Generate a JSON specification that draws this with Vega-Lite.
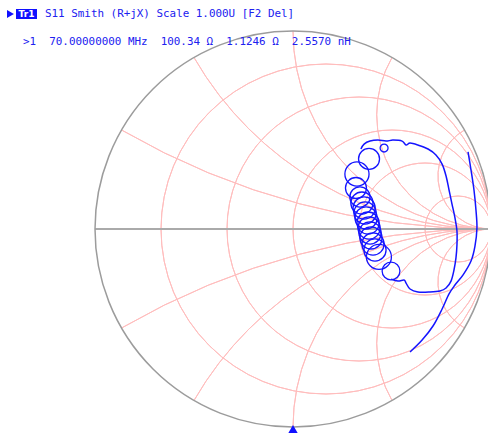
{
  "$schema": "https://vega.github.io/schema/vega-lite/v6.json",
  "width": 488,
  "height": 433,
  "autosize": {"type": "none"},
  "padding": 0,
  "background": "white",
  "config": {"view": {"stroke": null}},
  "datasets": {
    "grid": [
      {"re": 0.16667, "im": 0, "rho": 0.83333, "a0": 0, "a1": 360},
      {"re": 0.33333, "im": 0, "rho": 0.66667, "a0": 0, "a1": 360},
      {"re": 0.5, "im": 0, "rho": 0.5, "a0": 0, "a1": 360},
      {"re": 0.66667, "im": 0, "rho": 0.33333, "a0": 0, "a1": 360},
      {"re": 0.83333, "im": 0, "rho": 0.16667, "a0": 0, "a1": 360},
      {"re": 1, "im": 3.7321, "rho": 3.7321, "a0": 180, "a1": 210},
      {"re": 1, "im": 1.7321, "rho": 1.7321, "a0": 180, "a1": 240},
      {"re": 1, "im": 1, "rho": 1, "a0": 180, "a1": 270},
      {"re": 1, "im": 0.57735, "rho": 0.57735, "a0": 180, "a1": 300},
      {"re": 1, "im": 0.26795, "rho": 0.26795, "a0": 180, "a1": 330},
      {"re": 1, "im": -3.7321, "rho": 3.7321, "a0": 330, "a1": 360},
      {"re": 1, "im": -1.7321, "rho": 1.7321, "a0": 300, "a1": 360},
      {"re": 1, "im": -1, "rho": 1, "a0": 270, "a1": 360},
      {"re": 1, "im": -0.57735, "rho": 0.57735, "a0": 240, "a1": 360},
      {"re": 1, "im": -0.26795, "rho": 0.26795, "a0": 210, "a1": 360}
    ],
    "edge": [
      {"re": 0, "im": 0, "rho": 1, "a0": 0, "a1": 360}
    ],
    "loops": [
      {"re": 0.384, "im": 0.354, "rho": 0.053},
      {"re": 0.323, "im": 0.278, "rho": 0.061},
      {"re": 0.318, "im": 0.207, "rho": 0.053},
      {"re": 0.338, "im": 0.162, "rho": 0.051},
      {"re": 0.348, "im": 0.131, "rho": 0.056},
      {"re": 0.359, "im": 0.106, "rho": 0.056},
      {"re": 0.364, "im": 0.081, "rho": 0.056},
      {"re": 0.369, "im": 0.056, "rho": 0.056},
      {"re": 0.379, "im": 0.030, "rho": 0.056},
      {"re": 0.384, "im": 0.005, "rho": 0.056},
      {"re": 0.389, "im": -0.020, "rho": 0.056},
      {"re": 0.394, "im": -0.045, "rho": 0.056},
      {"re": 0.404, "im": -0.076, "rho": 0.056},
      {"re": 0.414, "im": -0.106, "rho": 0.056},
      {"re": 0.434, "im": -0.141, "rho": 0.063},
      {"re": 0.495, "im": -0.212, "rho": 0.045},
      {"re": 0.460, "im": 0.409, "rho": 0.020}
    ],
    "trace": [
      {"seg": "a", "k": 0, "re": 0.495, "im": -0.253},
      {"seg": "a", "k": 1, "re": 0.530, "im": -0.263},
      {"seg": "a", "k": 2, "re": 0.561, "im": -0.258},
      {"seg": "a", "k": 3, "re": 0.571, "im": -0.273},
      {"seg": "a", "k": 4, "re": 0.591, "im": -0.303},
      {"seg": "a", "k": 5, "re": 0.631, "im": -0.318},
      {"seg": "a", "k": 6, "re": 0.692, "im": -0.318},
      {"seg": "a", "k": 7, "re": 0.742, "im": -0.313},
      {"seg": "a", "k": 8, "re": 0.773, "im": -0.298},
      {"seg": "a", "k": 9, "re": 0.798, "im": -0.263},
      {"seg": "a", "k": 10, "re": 0.813, "im": -0.207},
      {"seg": "a", "k": 11, "re": 0.823, "im": -0.146},
      {"seg": "a", "k": 12, "re": 0.828, "im": -0.081},
      {"seg": "a", "k": 13, "re": 0.828, "im": -0.010},
      {"seg": "a", "k": 14, "re": 0.818, "im": 0.056},
      {"seg": "a", "k": 15, "re": 0.803, "im": 0.126},
      {"seg": "a", "k": 16, "re": 0.788, "im": 0.197},
      {"seg": "a", "k": 17, "re": 0.773, "im": 0.268},
      {"seg": "a", "k": 18, "re": 0.753, "im": 0.328},
      {"seg": "a", "k": 19, "re": 0.722, "im": 0.374},
      {"seg": "a", "k": 20, "re": 0.682, "im": 0.404},
      {"seg": "a", "k": 21, "re": 0.631, "im": 0.424},
      {"seg": "a", "k": 22, "re": 0.591, "im": 0.434},
      {"seg": "a", "k": 23, "re": 0.571, "im": 0.424},
      {"seg": "a", "k": 24, "re": 0.551, "im": 0.444},
      {"seg": "a", "k": 25, "re": 0.505, "im": 0.449},
      {"seg": "a", "k": 26, "re": 0.470, "im": 0.444},
      {"seg": "a", "k": 27, "re": 0.429, "im": 0.449},
      {"seg": "a", "k": 28, "re": 0.389, "im": 0.444},
      {"seg": "a", "k": 29, "re": 0.359, "im": 0.429},
      {"seg": "a", "k": 30, "re": 0.343, "im": 0.404},
      {"seg": "b", "k": 0, "re": 0.884, "im": 0.389},
      {"seg": "b", "k": 1, "re": 0.899, "im": 0.298},
      {"seg": "b", "k": 2, "re": 0.914, "im": 0.197},
      {"seg": "b", "k": 3, "re": 0.924, "im": 0.096},
      {"seg": "b", "k": 4, "re": 0.929, "im": 0.005},
      {"seg": "b", "k": 5, "re": 0.919, "im": -0.086},
      {"seg": "b", "k": 6, "re": 0.899, "im": -0.162},
      {"seg": "b", "k": 7, "re": 0.859, "im": -0.232},
      {"seg": "b", "k": 8, "re": 0.818, "im": -0.283},
      {"seg": "b", "k": 9, "re": 0.788, "im": -0.328},
      {"seg": "b", "k": 10, "re": 0.753, "im": -0.404},
      {"seg": "b", "k": 11, "re": 0.707, "im": -0.490},
      {"seg": "b", "k": 12, "re": 0.652, "im": -0.561},
      {"seg": "b", "k": 13, "re": 0.591, "im": -0.621}
    ]
  },
  "layer": [
    {
      "data": {"name": "grid"},
      "mark": {"type": "arc", "filled": false, "stroke": "#ffbdbd", "strokeWidth": 1},
      "encoding": {
        "x": {"field": "re", "type": "quantitative", "scale": {"domain": [-1.4798, 0.9848], "nice": false, "zero": false}, "axis": null},
        "y": {"field": "im", "type": "quantitative", "scale": {"domain": [-1.0303, 1.1566], "nice": false, "zero": false}, "axis": null},
        "radius": {"field": "rho", "type": "quantitative", "scale": {"type": "linear", "domain": [0, 1], "range": [0, 198], "zero": true, "nice": false}},
        "radius2": {"field": "rho"},
        "theta": {"field": "a0", "type": "quantitative", "stack": null, "scale": {"domain": [0, 360], "range": [0, 6.283185307179586]}},
        "theta2": {"field": "a1"}
      }
    },
    {
      "data": {"values": [{}]},
      "mark": {"type": "rule", "stroke": "#aaaaaa", "strokeWidth": 2},
      "encoding": {
        "x": {"datum": -1, "type": "quantitative", "scale": {"domain": [-1.4798, 0.9848], "nice": false, "zero": false}, "axis": null},
        "x2": {"datum": 1},
        "y": {"datum": 0, "type": "quantitative", "scale": {"domain": [-1.0303, 1.1566], "nice": false, "zero": false}, "axis": null}
      }
    },
    {
      "data": {"name": "edge"},
      "mark": {"type": "arc", "filled": false, "stroke": "#9c9c9c", "strokeWidth": 1.5},
      "encoding": {
        "x": {"field": "re", "type": "quantitative", "scale": {"domain": [-1.4798, 0.9848], "nice": false, "zero": false}, "axis": null},
        "y": {"field": "im", "type": "quantitative", "scale": {"domain": [-1.0303, 1.1566], "nice": false, "zero": false}, "axis": null},
        "radius": {"field": "rho", "type": "quantitative", "scale": {"type": "linear", "domain": [0, 1], "range": [0, 198], "zero": true, "nice": false}},
        "radius2": {"field": "rho"},
        "theta": {"field": "a0", "type": "quantitative", "stack": null, "scale": {"domain": [0, 360], "range": [0, 6.283185307179586]}},
        "theta2": {"field": "a1"}
      }
    },
    {
      "data": {"name": "trace"},
      "mark": {"type": "line", "stroke": "#1414ff", "strokeWidth": 1.5, "interpolate": "cardinal"},
      "encoding": {
        "x": {"field": "re", "type": "quantitative", "scale": {"domain": [-1.4798, 0.9848], "nice": false, "zero": false}, "axis": null},
        "y": {"field": "im", "type": "quantitative", "scale": {"domain": [-1.0303, 1.1566], "nice": false, "zero": false}, "axis": null},
        "detail": {"field": "seg", "type": "nominal"},
        "order": {"field": "k", "type": "quantitative"}
      }
    },
    {
      "data": {"name": "loops"},
      "mark": {"type": "arc", "filled": false, "stroke": "#1414ff", "strokeWidth": 1.3},
      "encoding": {
        "x": {"field": "re", "type": "quantitative", "scale": {"domain": [-1.4798, 0.9848], "nice": false, "zero": false}, "axis": null},
        "y": {"field": "im", "type": "quantitative", "scale": {"domain": [-1.0303, 1.1566], "nice": false, "zero": false}, "axis": null},
        "radius": {"field": "rho", "type": "quantitative", "scale": {"type": "linear", "domain": [0, 1], "range": [0, 198], "zero": true, "nice": false}},
        "radius2": {"field": "rho"},
        "theta": {"datum": 0, "type": "quantitative", "stack": null, "scale": {"domain": [0, 360], "range": [0, 6.283185307179586]}},
        "theta2": {"datum": 360}
      }
    },
    {
      "data": {"values": [{}]},
      "mark": {"type": "point", "shape": "triangle-up", "filled": true, "fill": "#1010ff", "stroke": null, "size": 196, "opacity": 1},
      "encoding": {
        "x": {"datum": 0, "type": "quantitative", "scale": {"domain": [-1.4798, 0.9848], "nice": false, "zero": false}, "axis": null},
        "y": {"datum": -1.0202, "type": "quantitative", "scale": {"domain": [-1.0303, 1.1566], "nice": false, "zero": false}, "axis": null}
      }
    },
    {
      "data": {"values": [{}]},
      "mark": {"type": "point", "shape": "triangle-right", "filled": true, "fill": "#1010ff", "stroke": null, "size": 64, "opacity": 1},
      "encoding": {
        "x": {"datum": -1.427, "type": "quantitative", "scale": {"domain": [-1.4798, 0.9848], "nice": false, "zero": false}, "axis": null},
        "y": {"datum": 1.0859, "type": "quantitative", "scale": {"domain": [-1.0303, 1.1566], "nice": false, "zero": false}, "axis": null}
      }
    },
    {
      "data": {"values": [{}]},
      "mark": {"type": "rect", "fill": "#1010ff"},
      "encoding": {
        "x": {"datum": -1.399, "type": "quantitative", "scale": {"domain": [-1.4798, 0.9848], "nice": false, "zero": false}, "axis": null},
        "x2": {"datum": -1.293},
        "y": {"datum": 1.111, "type": "quantitative", "scale": {"domain": [-1.0303, 1.1566], "nice": false, "zero": false}, "axis": null},
        "y2": {"datum": 1.0606}
      }
    },
    {
      "data": {"values": [{}]},
      "mark": {"type": "text", "font": "DejaVu Sans", "fontSize": 9, "fontWeight": "bold", "fill": "white", "align": "center", "baseline": "middle"},
      "encoding": {
        "x": {"datum": -1.346, "type": "quantitative", "scale": {"domain": [-1.4798, 0.9848], "nice": false, "zero": false}, "axis": null},
        "y": {"datum": 1.0859, "type": "quantitative", "scale": {"domain": [-1.0303, 1.1566], "nice": false, "zero": false}, "axis": null},
        "text": {"value": "Tr1"}
      }
    },
    {
      "data": {"values": [{}]},
      "mark": {"type": "text", "font": "DejaVu Sans Mono", "fontSize": 10.9, "fill": "#2020f0", "align": "left", "baseline": "middle"},
      "encoding": {
        "x": {"datum": -1.2525, "type": "quantitative", "scale": {"domain": [-1.4798, 0.9848], "nice": false, "zero": false}, "axis": null},
        "y": {"datum": 1.0859, "type": "quantitative", "scale": {"domain": [-1.0303, 1.1566], "nice": false, "zero": false}, "axis": null},
        "text": {"value": "S11 Smith (R+jX) Scale 1.000U [F2 Del]"}
      }
    },
    {
      "data": {"values": [{}]},
      "mark": {"type": "text", "font": "DejaVu Sans Mono", "fontSize": 10.9, "fill": "#2020f0", "align": "left", "baseline": "middle"},
      "encoding": {
        "x": {"datum": -1.3636, "type": "quantitative", "scale": {"domain": [-1.4798, 0.9848], "nice": false, "zero": false}, "axis": null},
        "y": {"datum": 0.9444, "type": "quantitative", "scale": {"domain": [-1.0303, 1.1566], "nice": false, "zero": false}, "axis": null},
        "text": {"value": ">1\u00a0\u00a070.00000000\u00a0MHz\u00a0\u00a0100.34\u00a0Ω\u00a0\u00a01.1246\u00a0Ω\u00a0\u00a02.5570\u00a0nH"}
      }
    }
  ]
}
